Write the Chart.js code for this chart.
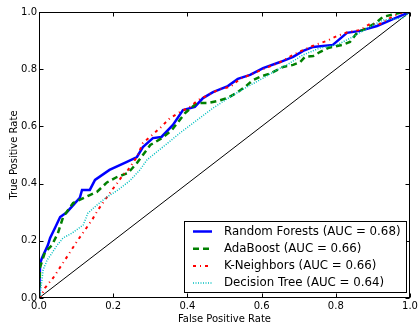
<!DOCTYPE html>
<html>
<head>
<meta charset="utf-8">
<script src="https://cdn.jsdelivr.net/npm/chart.js@4"></script>
<style>
  html, body { margin: 0; padding: 0; background: #fff; }
</style>
</head>
<body>
<canvas id="roc" width="418" height="324"></canvas>
<script>
// curvas ROC
const nomes = ['Random Forests', 'AdaBoost', 'K-Neighbors', 'Decision Tree'];
const aucs = [0.68, 0.66, 0.66, 0.64];
const ticks = [0.0, 0.2, 0.4, 0.6, 0.8, 1.0];

const rfFpr = [0, 0.003, 0.008, 0.024, 0.03, 0.043, 0.057, 0.075, 0.097, 0.11, 0.116, 0.137, 0.151, 0.19, 0.237, 0.264, 0.28, 0.307, 0.33, 0.361, 0.388, 0.42, 0.442, 0.469, 0.509, 0.536, 0.569, 0.604, 0.65, 0.685, 0.712, 0.739, 0.792, 0.83, 0.865, 0.911, 0.954, 0.992, 1];
const rfTpr = [0, 0.12, 0.14, 0.185, 0.21, 0.245, 0.283, 0.30, 0.332, 0.35, 0.378, 0.378, 0.413, 0.448, 0.476, 0.493, 0.528, 0.559, 0.563, 0.605, 0.657, 0.668, 0.699, 0.72, 0.741, 0.766, 0.78, 0.804, 0.825, 0.843, 0.864, 0.878, 0.885, 0.927, 0.934, 0.951, 0.975, 0.996, 1];

const adaFpr = [0, 0.003, 0.016, 0.035, 0.051, 0.065, 0.092, 0.137, 0.156, 0.183, 0.21, 0.24, 0.264, 0.3, 0.331, 0.358, 0.394, 0.426, 0.456, 0.482, 0.507, 0.523, 0.536, 0.555, 0.577, 0.601, 0.623, 0.658, 0.685, 0.704, 0.717, 0.739, 0.757, 0.779, 0.817, 0.838, 0.857, 0.884, 0.911, 0.927, 0.973, 1];
const adaTpr = [0, 0.108, 0.16, 0.185, 0.227, 0.283, 0.332, 0.36, 0.371, 0.404, 0.423, 0.437, 0.472, 0.535, 0.559, 0.587, 0.647, 0.682, 0.682, 0.689, 0.699, 0.71, 0.72, 0.738, 0.762, 0.776, 0.785, 0.808, 0.815, 0.825, 0.843, 0.846, 0.86, 0.874, 0.885, 0.895, 0.927, 0.944, 0.965, 0.983, 0.997, 1];

const knnFpr = [0, 0.003, 0.016, 0.038, 0.07, 0.089, 0.105, 0.124, 0.143, 0.159, 0.178, 0.197, 0.21, 0.226, 0.24, 0.264, 0.28, 0.305, 0.326, 0.353, 0.38, 0.407, 0.429, 0.456, 0.488, 0.515, 0.542, 0.604, 0.65, 0.685, 0.712, 0.744, 0.776, 0.803, 0.833, 0.865, 0.892, 0.919, 0.946, 0.973, 1];
const knnTpr = [0, 0, 0.035, 0.07, 0.133, 0.171, 0.203, 0.238, 0.273, 0.308, 0.343, 0.378, 0.4, 0.43, 0.448, 0.493, 0.542, 0.57, 0.594, 0.629, 0.65, 0.668, 0.692, 0.71, 0.731, 0.738, 0.766, 0.8, 0.825, 0.85, 0.867, 0.885, 0.899, 0.916, 0.93, 0.937, 0.958, 0.958, 0.979, 0.997, 1];

const dtFpr = [0, 0.003, 0.011, 0.022, 0.035, 0.049, 0.065, 0.089, 0.119, 0.132, 0.156, 0.183, 0.21, 0.245, 0.272, 0.291, 0.334, 0.38, 0.426, 0.469, 0.515, 0.561, 0.604, 0.65, 0.668, 0.712, 0.757, 0.803, 0.846, 0.892, 0.927, 0.981, 1];
const dtTpr = [0, 0.01, 0.098, 0.133, 0.157, 0.185, 0.21, 0.227, 0.255, 0.297, 0.325, 0.353, 0.375, 0.41, 0.448, 0.483, 0.528, 0.577, 0.622, 0.664, 0.703, 0.738, 0.769, 0.804, 0.815, 0.85, 0.874, 0.885, 0.913, 0.948, 0.972, 0.979, 1];

const diagX = [0, 1];
const diagY = [0, 1];

function pontos(xs, ys) {
  return xs.map((x, i) => ({x: x, y: ys[i]}));
}

const cores = ['#0000ff', '#008000', '#ff0000', '#00bfbf'];
const tracos = [[], [6, 4], [3, 4, 1, 4], [1, 1.5]];
const larguras = [2.5, 2.5, 2, 1.5];
const series = [[rfFpr, rfTpr], [adaFpr, adaTpr], [knnFpr, knnTpr], [dtFpr, dtTpr]];

const datasets = series.map((s, i) => ({
  label: `${nomes[i]} (AUC = ${aucs[i].toFixed(2)})`,
  data: pontos(s[0], s[1]),
  borderColor: cores[i],
  borderWidth: larguras[i],
  borderDash: tracos[i],
  pointRadius: 0,
  tension: 0,
  order: 4 - i
}));
datasets.push({
  label: 'diag',
  data: pontos(diagX, diagY),
  borderColor: '#000',
  borderWidth: 1,
  pointRadius: 0,
  order: 5
});

const fonte = 'DejaVu Sans';

// moldura e ticks para dentro, como no matplotlib
const molduraPlugin = {
  id: 'moldura',
  afterDatasetsDraw(chart) {
    const {ctx, chartArea: a, scales: {x, y}} = chart;
    const l = Math.round(a.left) + 0.5, r = Math.round(a.right) - 0.5;
    const t = Math.round(a.top) + 0.5, b = Math.round(a.bottom) - 0.5;
    ctx.save();
    ctx.strokeStyle = '#000';
    ctx.lineWidth = 1;
    ctx.strokeRect(l, t, r - l, b - t);
    ctx.beginPath();
    ticks.forEach(v => {
      const px = Math.round(x.getPixelForValue(v)) + 0.5;
      ctx.moveTo(px, b); ctx.lineTo(px, b - 4);
      ctx.moveTo(px, t); ctx.lineTo(px, t + 4);
      const py = Math.round(y.getPixelForValue(v)) + 0.5;
      ctx.moveTo(l, py); ctx.lineTo(l + 4, py);
      ctx.moveTo(r, py); ctx.lineTo(r - 4, py);
    });
    ctx.stroke();
    ctx.restore();
  },
  afterDraw(chart) {
    const {ctx, chartArea: a} = chart;
    ctx.save();
    ctx.font = `11.8px "${fonte}"`;
    const labels = datasets.slice(0, 4).map(d => d.label);
    const larg = Math.max(...labels.map(s => ctx.measureText(s).width));
    const w = Math.round(larg + 46), h = 71;
    const bx = Math.round(a.right - 4 - w) + 0.5, by = Math.round(a.bottom - 6 - h) + 0.5;
    ctx.fillStyle = '#fff';
    ctx.fillRect(bx, by, w, h);
    ctx.strokeStyle = '#000';
    ctx.lineWidth = 1;
    ctx.strokeRect(bx, by, w, h);
    labels.forEach((s, i) => {
      const ly = by + 10 + i * 17.2;
      const d = datasets[i];
      ctx.beginPath();
      ctx.setLineDash(d.borderDash);
      ctx.strokeStyle = d.borderColor;
      ctx.lineWidth = d.borderWidth;
      ctx.moveTo(bx + 8.5, ly);
      ctx.lineTo(bx + 27.5, ly);
      ctx.stroke();
      ctx.setLineDash([]);
      ctx.fillStyle = '#000';
      ctx.textBaseline = 'middle';
      ctx.fillText(s, bx + 39.5, ly);
    });
    ctx.restore();
  }
};

const ctx = document.getElementById('roc').getContext('2d');
new Chart(ctx, {
  type: 'line',
  data: { datasets: datasets },
  options: {
    responsive: false,
    animation: false,
    layout: { padding: { top: 12, right: 8, left: 0, bottom: 0 } },
    plugins: { legend: { display: false }, tooltip: { enabled: false } },
    scales: {
      x: {
        type: 'linear', min: 0, max: 1,
        grid: { display: false, drawTicks: false }, border: { display: false },
        afterBuildTicks: s => { s.ticks = ticks.map(v => ({value: v})); },
        afterFit: s => { s.height = 26; s.paddingLeft = 0; s.paddingRight = 0; },
        ticks: { padding: 2, color: '#000', maxRotation: 0, font: { family: fonte, size: 10 }, callback: v => v.toFixed(1) },
        title: { display: true, text: 'False Positive Rate', color: '#000', padding: { top: 0, bottom: -1 }, font: { family: fonte, size: 10 } }
      },
      y: {
        type: 'linear', min: 0, max: 1,
        grid: { display: false, drawTicks: false }, border: { display: false },
        afterBuildTicks: s => { s.ticks = ticks.map(v => ({value: v})); },
        afterFit: s => { s.width = 39; s.paddingTop = 0; s.paddingBottom = 0; },
        ticks: { padding: 2, color: '#000', font: { family: fonte, size: 10 }, callback: v => v.toFixed(1) },
        title: { display: true, text: 'True Positive Rate', color: '#000', padding: { top: 8, bottom: 0 }, font: { family: fonte, size: 10 } }
      }
    }
  },
  plugins: [molduraPlugin]
});
</script>
</body>
</html>
